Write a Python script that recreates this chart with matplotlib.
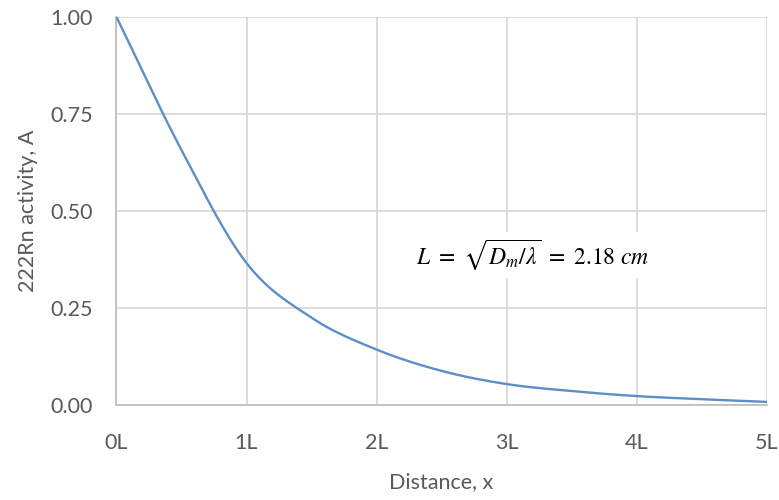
import numpy as np
import matplotlib
matplotlib.use("Agg")
import matplotlib.pyplot as plt
from matplotlib.ticker import FuncFormatter

# Distance in units of the diffusion length L, and relative 222Rn activity
distance_L = [0.0, 0.5, 1.0, 1.5, 2.0, 2.5, 3.0, 3.5, 4.0, 4.5, 5.0]
activity = [1.0, 0.657, 0.366, 0.225, 0.143, 0.088, 0.054, 0.036, 0.023,
            0.015, 0.008]

x_ticks = [0, 1, 2, 3, 4, 5]
y_ticks = [0.0, 0.25, 0.5, 0.75, 1.0]
annotation = r"$L\ =\ \sqrt{D_m/\lambda}\ =\ 2.18\ cm$"


def catmull_rom(xs, ys, n=30):
    """Smooth curve through the given points (uniform Catmull-Rom)."""
    p = np.column_stack([xs, ys]).astype(float)
    p = np.vstack([2 * p[0] - p[1], p, 2 * p[-1] - p[-2]])
    out = []
    t = np.linspace(0, 1, n, endpoint=False)[:, None]
    for i in range(1, len(p) - 2):
        p0, p1, p2, p3 = p[i - 1], p[i], p[i + 1], p[i + 2]
        seg = 0.5 * ((2 * p1) + (-p0 + p2) * t +
                     (2 * p0 - 5 * p1 + 4 * p2 - p3) * t ** 2 +
                     (-p0 + 3 * p1 - 3 * p2 + p3) * t ** 3)
        out.append(seg)
    out.append(p[-2][None, :])
    c = np.vstack(out)
    return c[:, 0], c[:, 1]


plt.rcParams["font.family"] = ["Lato", "DejaVu Sans"]
plt.rcParams["mathtext.fontset"] = "stix"

text_color = "#595959"
grid_color = "#d9d9d9"

fig = plt.figure(figsize=(7.79, 5.0), dpi=100)
ax = fig.add_axes([116.5 / 779, 1 - 405 / 500, 650 / 779, 388 / 500])

cx, cy = catmull_rom(distance_L, activity)
ax.plot(cx, cy, color="#5b8fc7", lw=1.7, solid_capstyle="round", zorder=3)

ax.set_xlim(0, 5)
ax.set_ylim(0, 1)
ax.set_xticks(x_ticks)
ax.set_yticks(y_ticks)
ax.xaxis.set_major_formatter(FuncFormatter(lambda v, _: f"{int(round(v))}L"))
ax.yaxis.set_major_formatter(FuncFormatter(lambda v, _: f"{v:.2f}"))

ax.grid(True, color=grid_color, lw=1.3)
ax.set_axisbelow(True)
for side in ("top", "right"):
    ax.spines[side].set_visible(False)
for side in ("left", "bottom"):
    ax.spines[side].set_color("#bfbfbf")
    ax.spines[side].set_linewidth(1.3)

ax.tick_params(length=0, labelsize=15.5, colors=text_color)
ax.tick_params(axis="x", pad=20)
ax.tick_params(axis="y", pad=17)

ax.set_xlabel("Distance, x", fontsize=15.5, color=text_color, labelpad=14)
ax.set_ylabel("222Rn activity, A", fontsize=15.5, color=text_color,
              labelpad=9)

ax.text(2.30, 0.387, annotation, fontsize=17, color="black", va="center",
        ha="left", zorder=4,
        bbox=dict(facecolor="white", edgecolor="none", pad=4))

fig.savefig("out.png", dpi=100)
